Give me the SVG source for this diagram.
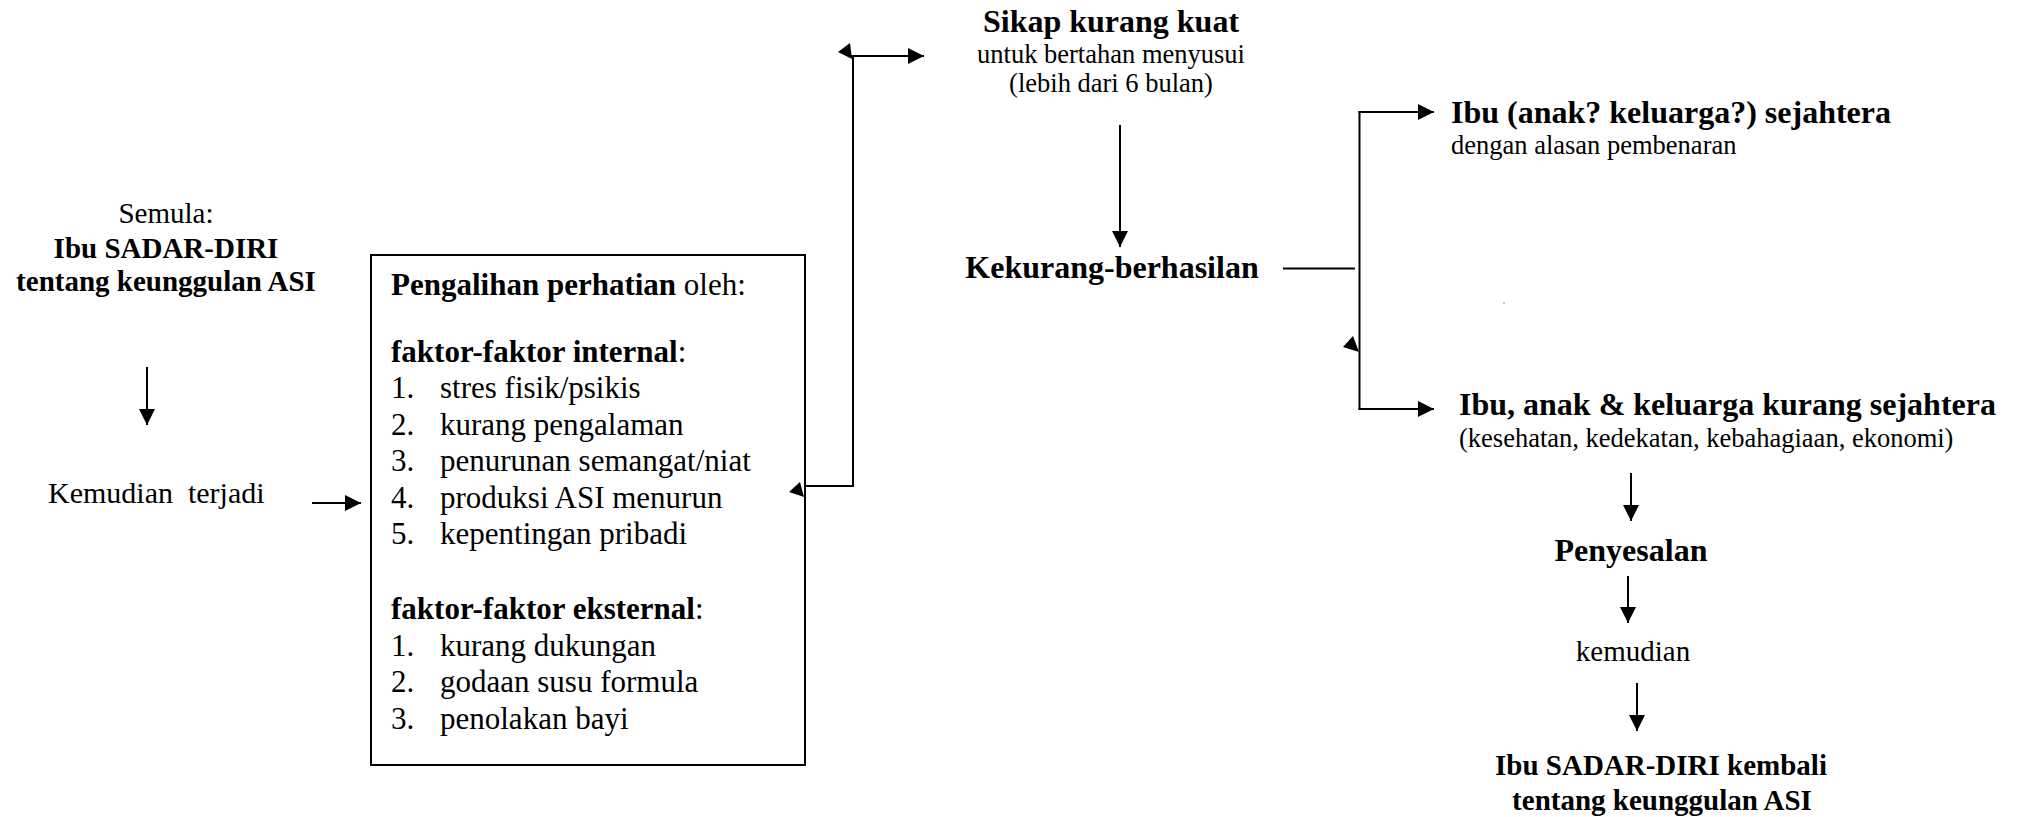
<svg xmlns="http://www.w3.org/2000/svg" width="2020" height="817" viewBox="0 0 2020 817">
<style>
text{font-family:"Liberation Serif","Times New Roman",serif;fill:#000}
.b{font-weight:bold}
.l{font-size:29px}
.m{font-size:32px}
.bx{font-size:31px}
.s{font-size:26.5px}
.c{text-anchor:middle}
.ln{stroke:#000;stroke-width:2;fill:none}
.ah{fill:#000;stroke:none}
</style>
<defs>
<marker id="arr" markerUnits="userSpaceOnUse" markerWidth="16" markerHeight="16" refX="16" refY="8" orient="auto" viewBox="0 0 16 16">
<path d="M0,0 L16,8 L0,16 z" fill="#000"/>
</marker>
</defs>
<rect width="2020" height="817" fill="#fff"/>

<g id="connectors">
<line class="ln" x1="147" y1="367" x2="147" y2="425" marker-end="url(#arr)"/>
<line class="ln" x1="312" y1="503" x2="361" y2="503" marker-end="url(#arr)"/>
<line class="ln" x1="805" y1="486" x2="854" y2="486"/>
<line class="ln" x1="853" y1="487" x2="853" y2="56"/>
<line class="ln" x1="851" y1="56" x2="924" y2="56" marker-end="url(#arr)"/>
<polygon class="ah" points="838,52 850,43 852,59"/>
<polygon class="ah" points="789,492 800,482 804,497"/>
<line class="ln" x1="1120" y1="125" x2="1120" y2="247" marker-end="url(#arr)"/>
<line class="ln" x1="1283" y1="268.5" x2="1355" y2="268.5"/>
<line class="ln" x1="1359.5" y1="111" x2="1359.5" y2="410"/>
<line class="ln" x1="1358.5" y1="112" x2="1434" y2="112" marker-end="url(#arr)"/>
<line class="ln" x1="1358.5" y1="409" x2="1434" y2="409" marker-end="url(#arr)"/>
<polygon class="ah" points="1353,336 1343,347 1359,352"/>
<line class="ln" x1="1631" y1="473" x2="1631" y2="521" marker-end="url(#arr)"/>
<line class="ln" x1="1628" y1="576" x2="1628" y2="623" marker-end="url(#arr)"/>
<line class="ln" x1="1637" y1="683" x2="1637" y2="731" marker-end="url(#arr)"/>
</g>

<g id="node-semula">
<text class="l c" x="166" y="223">Semula:</text>
<text class="l b c" x="166" y="258">Ibu SADAR-DIRI</text>
<text class="l b c" x="166" y="291">tentang keunggulan ASI</text>
</g>

<g id="node-kemudian-terjadi">
<text class="l" x="48" y="503" xml:space="preserve" style="font-size:30px">Kemudian  terjadi</text>
</g>

<g id="node-pengalihan">
<rect x="371" y="255" width="434" height="510" fill="none" stroke="#000" stroke-width="2"/>
<text class="bx" x="391" y="295"><tspan class="b">Pengalihan perhatian</tspan> oleh:</text>
<text class="bx" x="391" y="362"><tspan class="b">faktor-faktor internal</tspan>:</text>
<text class="bx" x="391" y="398">1.</text><text class="bx" x="440" y="398">stres fisik/psikis</text>
<text class="bx" x="391" y="435">2.</text><text class="bx" x="440" y="435">kurang pengalaman</text>
<text class="bx" x="391" y="471">3.</text><text class="bx" x="440" y="471">penurunan semangat/niat</text>
<text class="bx" x="391" y="508">4.</text><text class="bx" x="440" y="508">produksi ASI menurun</text>
<text class="bx" x="391" y="544">5.</text><text class="bx" x="440" y="544">kepentingan pribadi</text>
<text class="bx" x="391" y="619"><tspan class="b">faktor-faktor eksternal</tspan>:</text>
<text class="bx" x="391" y="656">1.</text><text class="bx" x="440" y="656">kurang dukungan</text>
<text class="bx" x="391" y="692">2.</text><text class="bx" x="440" y="692">godaan susu formula</text>
<text class="bx" x="391" y="729">3.</text><text class="bx" x="440" y="729">penolakan bayi</text>
</g>

<g id="node-sikap">
<text class="m b c" x="1111" y="32">Sikap kurang kuat</text>
<text class="s c" x="1111" y="63">untuk bertahan menyusui</text>
<text class="s c" x="1111" y="92">(lebih dari 6 bulan)</text>
</g>

<g id="node-kekurang">
<text class="m b c" x="1112" y="278">Kekurang-berhasilan</text>
</g>

<g id="node-sejahtera">
<text class="m b" x="1451" y="123">Ibu (anak? keluarga?) sejahtera</text>
<text class="s" x="1451" y="154">dengan alasan pembenaran</text>
</g>

<circle cx="1504" cy="303" r="0.8" fill="#777"/>

<g id="node-kurang-sejahtera">
<text class="m b" x="1459" y="415">Ibu, anak &amp; keluarga kurang sejahtera</text>
<text class="s" x="1459" y="447">(kesehatan, kedekatan, kebahagiaan, ekonomi)</text>
</g>

<g id="node-penyesalan">
<text class="m b c" x="1631" y="561">Penyesalan</text>
</g>

<g id="node-kemudian">
<text class="l c" x="1633" y="661">kemudian</text>
</g>

<g id="node-sadar-kembali">
<text class="l b c" x="1661" y="775">Ibu SADAR-DIRI kembali</text>
<text class="l b c" x="1662" y="810">tentang keunggulan ASI</text>
</g>
</svg>
